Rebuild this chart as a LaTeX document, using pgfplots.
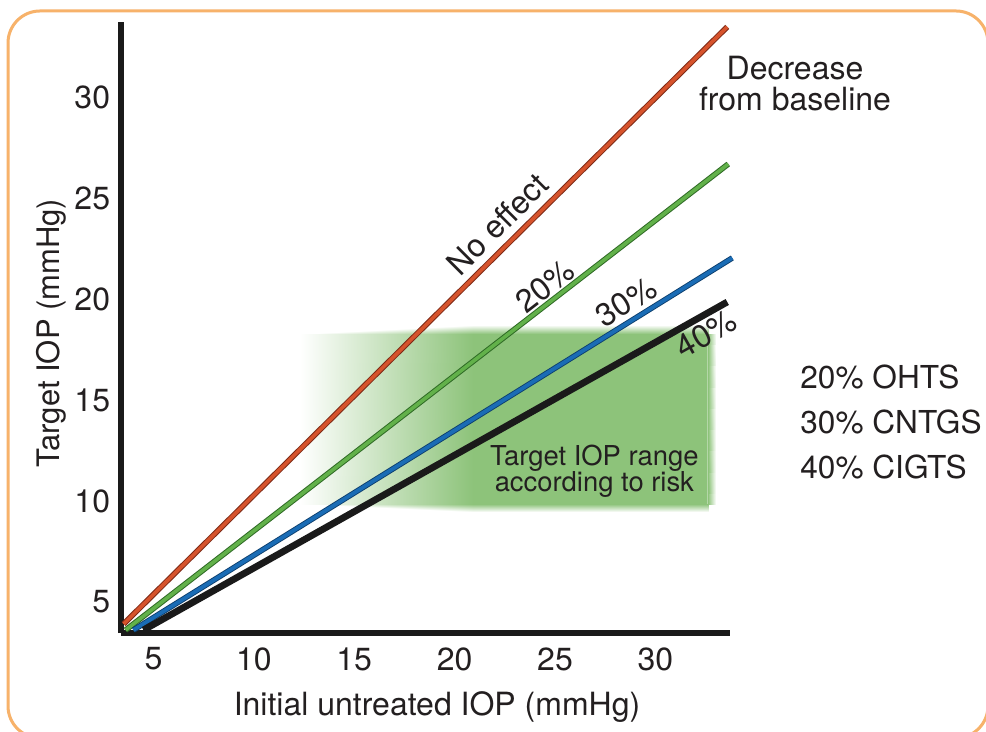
\documentclass[border=0pt]{standalone}
\usepackage{fontspec}
\setmainfont{TeX Gyre Heros}
\usepackage{pgfplots}
\pgfplotsset{compat=1.18}
\definecolor{redc}{HTML}{D6532C}
\definecolor{redb}{HTML}{7E2A16}
\definecolor{greenc}{HTML}{62B14A}
\definecolor{greenb}{HTML}{2F6B25}
\definecolor{bluec}{HTML}{1A6CB5}
\definecolor{blueb}{HTML}{0D3F6E}
\definecolor{blackc}{HTML}{1A1A1A}
\definecolor{rangec}{HTML}{8DC37A}
\definecolor{framec}{HTML}{F7B26A}
\definecolor{textc}{HTML}{231F20}
\begin{document}
\begin{tikzpicture}[x=1pt,y=1pt]
\useasboundingbox (0,0) rectangle (493,366);
\fill[white] (0,0) rectangle (493,366);
\draw[framec, line width=1.5pt, rounded corners=16pt] (4,-3) rectangle (494,360.5);
\begin{axis}[at={(60.5,49)}, anchor=south west, scale only axis,
  width=304.5pt, height=305.5pt,
  xmin=3.406, xmax=33.74, ymin=3.465, ymax=33.71,
  axis x line*=bottom, axis y line*=left,
  axis line style={line width=3pt, color=blackc, -},
  xtick={5,10,...,30}, ytick={5,10,...,30},
  major tick length=0pt,
  tick label style={font=\fontsize{16}{18}\selectfont, text=textc},
  /pgf/number format/assume math mode=true,
  yticklabel style={anchor=east, inner sep=0pt, xshift=-5.5pt},
  xticklabel style={anchor=north, inner sep=0pt, yshift=-7pt},
  colormap={rng}{color=(white) color=(rangec)},
  point meta min=0, point meta max=1,
  clip=false]
% target range: solid core
\addplot[draw=none, fill=rangec] coordinates {(20.85,9.85) (32.6,9.85) (32.6,18.27) (20.85,18.27) (20.85,9.85)};
% target range: fading left part and soft edges
\addplot[patch, shader=interp, point meta=explicit] coordinates {
 (12.3,9.85) [0] (20.9,9.85) [1] (20.9,18.27) [1]
 (12.3,9.85) [0] (20.9,18.27) [1] (12.3,18.27) [0]
 (12.3,18.27) [0] (20.9,18.27) [1] (20.9,18.7) [0]
 (12.3,18.27) [0] (20.9,18.7) [0] (12.3,18.7) [0]
 (20.9,18.27) [1] (32.6,18.27) [1] (32.6,18.7) [0]
 (20.9,18.27) [1] (32.6,18.7) [0] (20.9,18.7) [0]
 (12.3,9.85) [0] (20.9,9.85) [1] (20.9,9.45) [0]
 (20.9,9.85) [1] (32.6,9.85) [1] (32.6,9.45) [0]
 (20.9,9.85) [1] (32.6,9.45) [0] (20.9,9.45) [0]
 (32.6,9.85) [1] (33.0,9.85) [0] (33.0,18.27) [0]
 (32.6,9.85) [1] (33.0,18.27) [0] (32.6,18.27) [1]
};
% lines
\addplot[draw=redb, line width=2.8pt] coordinates {(3.51,3.91) (33.58,33.47)};
\addplot[draw=redc, line width=1.8pt] coordinates {(3.51,3.91) (33.58,33.47)};
\addplot[draw=greenb, line width=2.8pt] coordinates {(3.61,3.61) (33.63,26.68)};
\addplot[draw=greenc, line width=1.8pt] coordinates {(3.61,3.61) (33.63,26.68)};
\addplot[draw=blueb, line width=2.8pt] coordinates {(4.00,3.61) (33.83,22.03)};
\addplot[draw=bluec, line width=1.9pt] coordinates {(4.00,3.61) (33.83,22.03)};
\addplot[draw=blackc, line width=3.4pt] coordinates {(4.50,3.61) (33.58,19.85)};
% labels
\node[rotate=45, text=textc, font=\fontsize{16}{18}\selectfont] at (axis cs:22.13,23.71) {No effect};
\node[rotate=37.7, text=textc, font=\fontsize{16}{18}\selectfont] at (axis cs:24.52,20.64) {20\%};
\node[rotate=31.8, text=textc, font=\fontsize{16}{18}\selectfont] at (axis cs:28.55,19.85) {30\%};
\node[rotate=29.3, text=textc, font=\fontsize{16}{18}\selectfont] at (axis cs:32.54,18.27) {40\%};
\node[align=center, text=textc, font=\fontsize{13.7}{13}\selectfont] at (axis cs:26.96,11.49) {Target IOP range\\according to risk};
\end{axis}
\node[text=textc, font=\fontsize{16}{18}\selectfont] at (218.5,12.5) {Initial untreated IOP (mmHg)};
\node[rotate=90, text=textc, font=\fontsize{15.5}{18}\selectfont] at (25.5,199.5) {Target IOP (mmHg)};
\node[align=center, text=textc, font=\fontsize{16}{15.5}\selectfont] at (397.5,324) {Decrease\\from baseline};
\node[anchor=west, inner sep=0pt, text=textc, font=\fontsize{15.8}{18}\selectfont] at (400,177.5) {20\% OHTS};
\node[anchor=west, inner sep=0pt, text=textc, font=\fontsize{15.8}{18}\selectfont] at (400,155) {30\% CNTGS};
\node[anchor=west, inner sep=0pt, text=textc, font=\fontsize{15.8}{18}\selectfont] at (400,132.5) {40\% CIGTS};
\end{tikzpicture}
\end{document}
